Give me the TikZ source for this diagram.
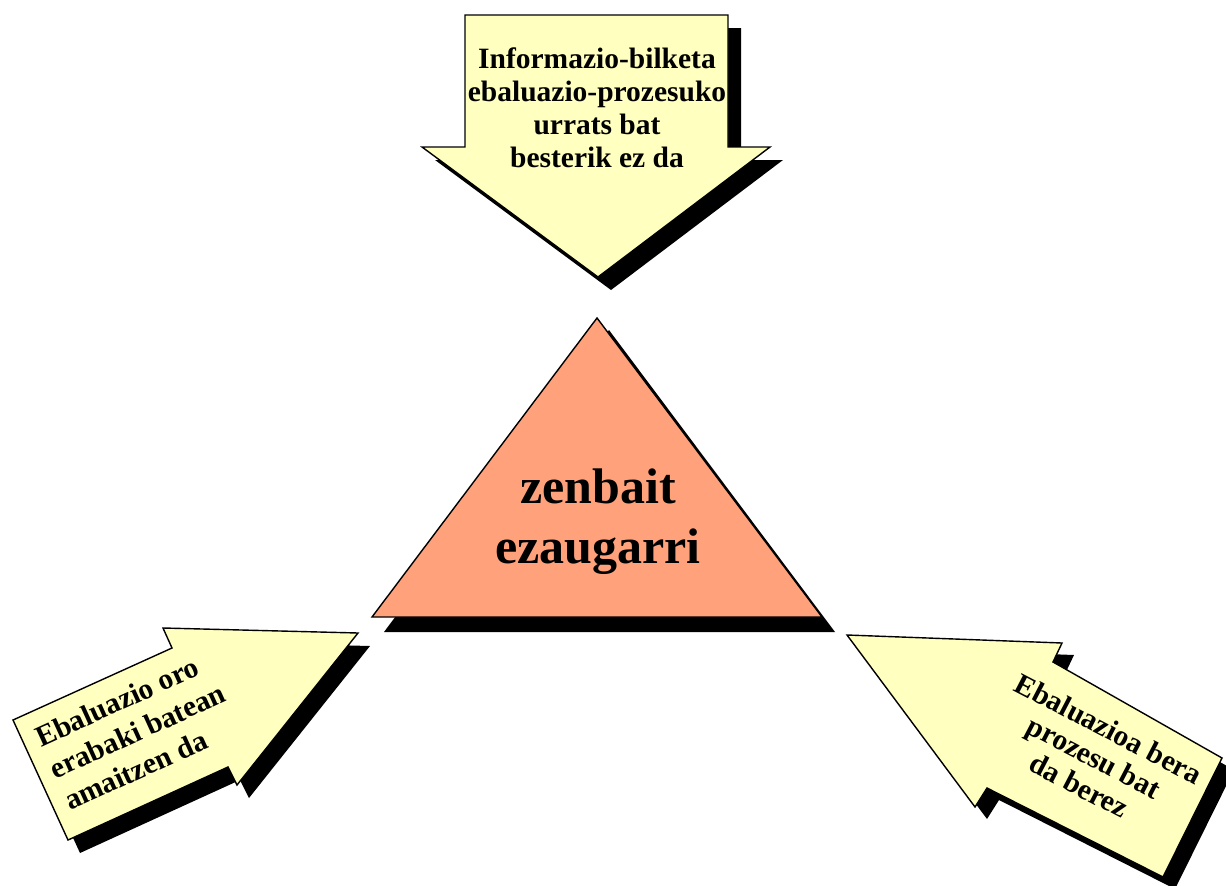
\documentclass[tikz,border=0pt]{standalone}
\usepackage{fontspec}
\setmainfont{Liberation Serif}
\definecolor{pale}{HTML}{FFFFBF}
\definecolor{salmon}{HTML}{FFA27C}
\begin{document}
\begin{tikzpicture}[x=1pt,y=-1pt,
  outline/.style={draw=black,line width=1.4pt,line join=miter},
  shade/.style={fill=black},
  lbl/.style={inner sep=0pt,text=black,font=\bfseries\fontsize{29.5}{33}\selectfont}]
\clip (0,0) rectangle (1226,886);
\fill[white] (0,0) rectangle (1226,886);
% ---- top arrow
\begin{scope}[shift={(13,13)}]
\fill[shade] (465,15) -- (728,15) -- (728,147) -- (770,147) -- (598,277) -- (422,147) -- (465,147) -- cycle;
\end{scope}
\filldraw[outline,fill=pale] (465,15) -- (728,15) -- (728,147) -- (770,147) -- (598,277) -- (422,147) -- (465,147) -- cycle;
\node[lbl,align=center,anchor=north] (toptext) at (597,48)
  {Informazio-bilketa\\ebaluazio-prozesuko\\urrats bat\\besterik ez da};
% ---- triangle
\fill[shade] (609,330) -- (835,632) -- (384,632) -- cycle;
\filldraw[outline,fill=salmon] (597,318) -- (822,617) -- (372,617) -- cycle;
\node[inner sep=0pt,align=center,anchor=north,font=\bfseries\fontsize{50}{60}\selectfont] (tritext) at (598,469)
  {zenbait\\ezaugarri};
% ---- left arrow
\begin{scope}[shift={(12,13)}]
\fill[shade] (358,633) -- (237,785) -- (228,767) -- (68,840) -- (13,720) -- (172,648) -- (163,628) -- cycle;
\end{scope}
\filldraw[outline,fill=pale] (358,633) -- (237,785) -- (228,767) -- (68,840) -- (13,720) -- (172,648) -- (163,628) -- cycle;
\node[lbl,align=left,anchor=north west,rotate=24.5,font=\bfseries\fontsize{29.5}{35}\selectfont] (lefttext) at (32.4,728.5)
  {Ebaluazio oro\\erabaki batean\\amaitzen da};
% ---- right arrow
\begin{scope}[shift={(12,12)}]
\fill[shade] (847,635) -- (1062,643) -- (1053,662) -- (1222,758) -- (1163,877) -- (987,788) -- (975,807) -- cycle;
\end{scope}
\filldraw[outline,fill=pale] (847,635) -- (1062,643) -- (1053,662) -- (1222,758) -- (1163,877) -- (987,788) -- (975,807) -- cycle;
\node[lbl,align=center,anchor=center,rotate=-27.5,font=\bfseries\fontsize{29.5}{32}\selectfont] (righttext) at (1094,757)
  {Ebaluazioa bera\\prozesu bat\\da berez};
\end{tikzpicture}
\end{document}
